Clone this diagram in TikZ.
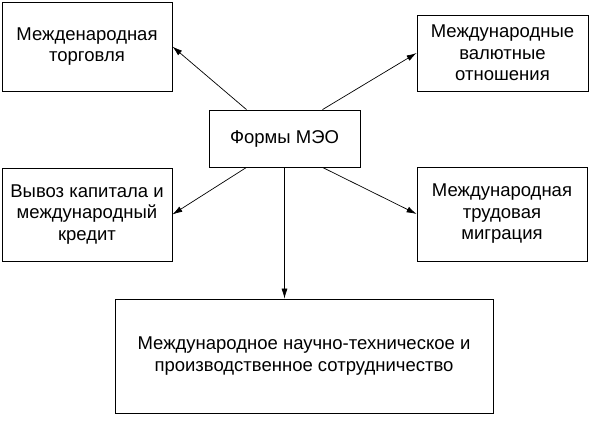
\documentclass[tikz,border=0pt]{standalone}
\usepackage{fontspec}
\setmainfont{Liberation Sans}
\usetikzlibrary{positioning, arrows.meta}

\begin{document}
\begin{tikzpicture}[
    x=1pt, y=1pt,
    node distance=3cm,
    on grid,
    every node/.style={font=\fontsize{18.5}{21.5}\selectfont},
    form/.style={draw, line width=0.8pt, align=center, inner sep=2pt},
    every edge/.append style={line width=0.7pt, -{Latex[length=10pt, width=6pt]}}
]
   \useasboundingbox (0,0) rectangle (612,-433);

   % Center
   \node[form, minimum width=151pt, minimum height=57pt] (mio) at (284.5,-138.5) {Формы МЭО};

   % Forms around
   \node[form, minimum width=170pt, minimum height=89pt] (trade) [above left=92pt and 197.5pt of mio] {Межденародная\\торговля};
   \node[form, minimum width=171pt, minimum height=76pt] (currency) [above right=85.5pt and 218pt of mio] {Международные\\валютные\\отношения};
   \node[form, minimum width=170pt, minimum height=93pt] (capital) [below left=76pt and 197.5pt of mio] {Вывоз капитала и\\международный\\кредит};
   \node[form, minimum width=170pt, minimum height=94pt] (labour) [below right=75.5pt and 217.5pt of mio] {Международная\\трудовая\\миграция};
   \node[form, minimum width=378pt, minimum height=114pt] (coop) [below right=217.5pt and 19.5pt of mio] {Международное научно-техническое и\\производственное сотрудничество};

   % Arrows
   \path
   ([xshift=-38pt]mio.north) edge (trade.east)
   ([xshift=38pt]mio.north) edge (currency.west)
   ([xshift=-38pt]mio.south) edge (capital.east)
   ([xshift=38pt]mio.south) edge (labour.west)
   (mio.south) edge (mio.south |- coop.north);

\end{tikzpicture}
\end{document}
